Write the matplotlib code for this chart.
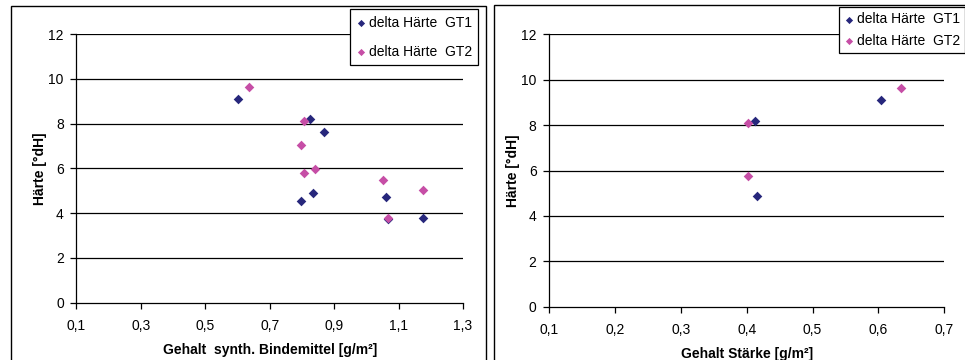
import matplotlib
matplotlib.use("Agg")
import matplotlib.pyplot as plt
from matplotlib.patches import Rectangle

# left chart: synthetic binder content
binder_gt1 = [0.603, 0.826, 0.870, 0.797, 0.833, 1.060, 1.068, 1.177]
haerte_gt1 = [9.11, 8.22, 7.64, 4.56, 4.89, 4.74, 3.74, 3.80]
binder_gt2 = [0.635, 0.806, 0.797, 0.806, 0.841, 1.052, 1.068, 1.177]
haerte_gt2 = [9.65, 8.10, 7.04, 5.79, 5.97, 5.48, 3.80, 5.03]

# right chart: starch content
staerke_gt1 = [0.413, 0.416, 0.604]
staerke_haerte_gt1 = [8.19, 4.86, 9.12]
staerke_gt2 = [0.402, 0.402, 0.635]
staerke_haerte_gt2 = [8.08, 5.76, 9.65]

left_xticks = [0.1, 0.3, 0.5, 0.7, 0.9, 1.1, 1.3]
right_xticks = [0.1, 0.2, 0.3, 0.4, 0.5, 0.6, 0.7]
yticks = [0, 2, 4, 6, 8, 10, 12]

NAVY = "#27277c"
PINK = "#c64ea6"
W, H = 965, 360

plt.rcParams["font.family"] = ["Liberation Sans", "DejaVu Sans"]
plt.rcParams["font.size"] = 10

fig = plt.figure(figsize=(W / 100, H / 100), dpi=100)


def px_axes(x0, y0, x1, y1):
    # pixel box (from top-left) -> figure axes
    return fig.add_axes([x0 / W, 1 - y1 / H, (x1 - x0) / W, (y1 - y0) / H])


def tick_label(v):
    return f"{v:g}".replace(".", ",")


def draw_panel(ax, xs1, ys1, xs2, ys2, xticks, xlabel):
    ax.scatter(xs1, ys1, marker="D", s=24, color=NAVY, linewidths=0,
               label="delta Härte  GT1", zorder=3)
    ax.scatter(xs2, ys2, marker="D", s=24, color=PINK, linewidths=0,
               label="delta Härte  GT2", zorder=3)
    ax.set_xlim(xticks[0], xticks[-1])
    ax.set_ylim(0, 12)
    ax.set_xticks(xticks)
    ax.set_xticklabels([tick_label(v) for v in xticks])
    ax.set_yticks(yticks)
    ax.set_yticklabels([str(v) for v in yticks])
    for y in yticks[1:]:
        ax.axhline(y, color="black", lw=0.9, zorder=1)
    ax.spines[["top", "right"]].set_visible(False)
    ax.spines["left"].set_linewidth(0.9)
    ax.spines["bottom"].set_linewidth(0.9)
    ax.tick_params(direction="out", length=4, width=0.9)
    ax.tick_params(axis="x", pad=8)
    ax.tick_params(axis="y", pad=5)
    ax.set_xlabel(xlabel, fontweight="bold", labelpad=7)
    ax.set_ylabel("Härte [°dH]", fontweight="bold", labelpad=1)
    ax.patch.set_visible(False)


ax1 = px_axes(76.3, 34, 463, 302.7)
draw_panel(ax1, binder_gt1, haerte_gt1, binder_gt2, haerte_gt2,
           left_xticks, "Gehalt  synth. Bindemittel [g/m²]")
leg1 = ax1.legend(loc="upper left", bbox_to_anchor=((350 - 76.3) / 386.7, (302.7 - 9.3) / 268.7),
                  frameon=True, fancybox=False, edgecolor="black", framealpha=1,
                  handletextpad=0.2, handlelength=0.7, labelspacing=1.1,
                  borderpad=0.45, borderaxespad=0, markerscale=0.75)
leg1.get_frame().set_linewidth(0.9)

ax2 = px_axes(549, 34.3, 944.3, 306.7)
draw_panel(ax2, staerke_gt1, staerke_haerte_gt1, staerke_gt2, staerke_haerte_gt2,
           right_xticks, "Gehalt Stärke [g/m²]")
leg2 = ax2.legend(loc="upper left", bbox_to_anchor=((839.3 - 549) / 395.3, (306.7 - 7.3) / 272.4),
                  frameon=True, fancybox=False, edgecolor="black", framealpha=1,
                  handletextpad=0.2, handlelength=0.7, labelspacing=0.55,
                  borderpad=0.35, borderaxespad=0, markerscale=0.75)
leg2.get_frame().set_linewidth(0.9)

# panel borders (bottoms run off the image)
for x0, y0, x1 in [(10.7, 6, 486), (494, 4.7, 975)]:
    fig.patches.append(Rectangle((x0 / W, -0.05), (x1 - x0) / W, 1.05 - y0 / H,
                                 transform=fig.transFigure, fill=False,
                                 edgecolor="black", lw=1.0, zorder=0))

fig.savefig("out.png", dpi=100)
